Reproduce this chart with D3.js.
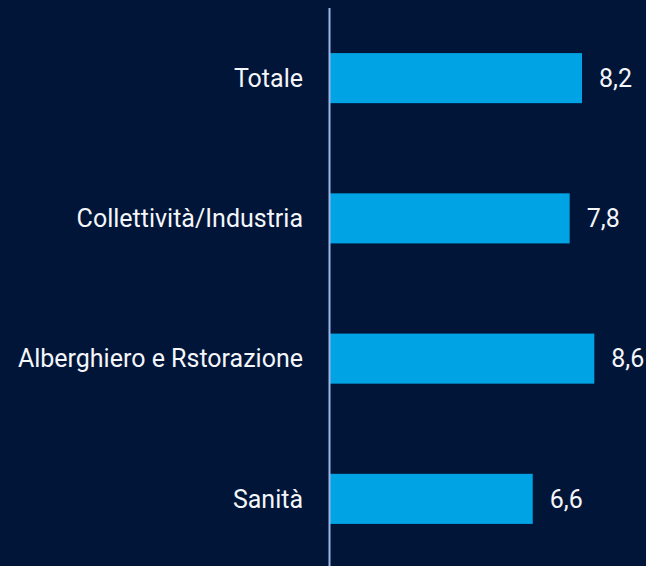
<!DOCTYPE html>
<html><head><meta charset="utf-8">
<script src="https://cdn.jsdelivr.net/npm/d3@7"></script>
<style>html,body{margin:0;padding:0;background:#001538;}</style>
</head><body>
<script>
const categories = ["Totale", "Collettività/Industria", "Alberghiero e Rstorazione", "Sanità"];
const values = [8.2, 7.8, 8.6, 6.6];
const valueLabels = ["8,2", "7,8", "8,6", "6,6"];

const W = 646, H = 566;
const svg = d3.select("body").append("svg").attr("width", W).attr("height", H)
  .style("display","block").style("background","#001538");

const x0 = 329.5;
const x = d3.scaleLinear().domain([0, 8.2]).range([x0, 582]);
const y = d3.scaleBand().domain(categories).range([8, 569]).paddingInner(0.643).paddingOuter(0.3215);

const font = "'Source Sans Pro', Roboto, sans-serif";

svg.append("g").selectAll("rect").data(values).join("rect")
  .attr("x", x(0)).attr("y", (d,i)=>y(categories[i]))
  .attr("width", d=>x(d)-x(0)).attr("height", y.bandwidth())
  .attr("fill", "#00a3e3");

svg.append("line").attr("x1", x0).attr("x2", x0).attr("y1", 8).attr("y2", H)
  .attr("stroke", "#9bb6e6").attr("stroke-width", 2);

svg.append("g").selectAll("text").data(categories).join("text")
  .attr("x", 303).attr("y", d=>y(d)+y.bandwidth()/2)
  .attr("dy", "0.35em").attr("text-anchor","end")
  .attr("fill", "#f4f6fa").style("font-family", font).style("font-size","25px")
  .text(d=>d);

svg.append("g").selectAll("text").data(values).join("text")
  .attr("x", d=>x(d)+17).attr("y", (d,i)=>y(categories[i])+y.bandwidth()/2)
  .attr("dy", "0.35em").attr("text-anchor","start")
  .attr("fill", "#f4f6fa").style("font-family", font).style("font-size","25px")
  .text((d,i)=>valueLabels[i]);
</script>
</body></html>
